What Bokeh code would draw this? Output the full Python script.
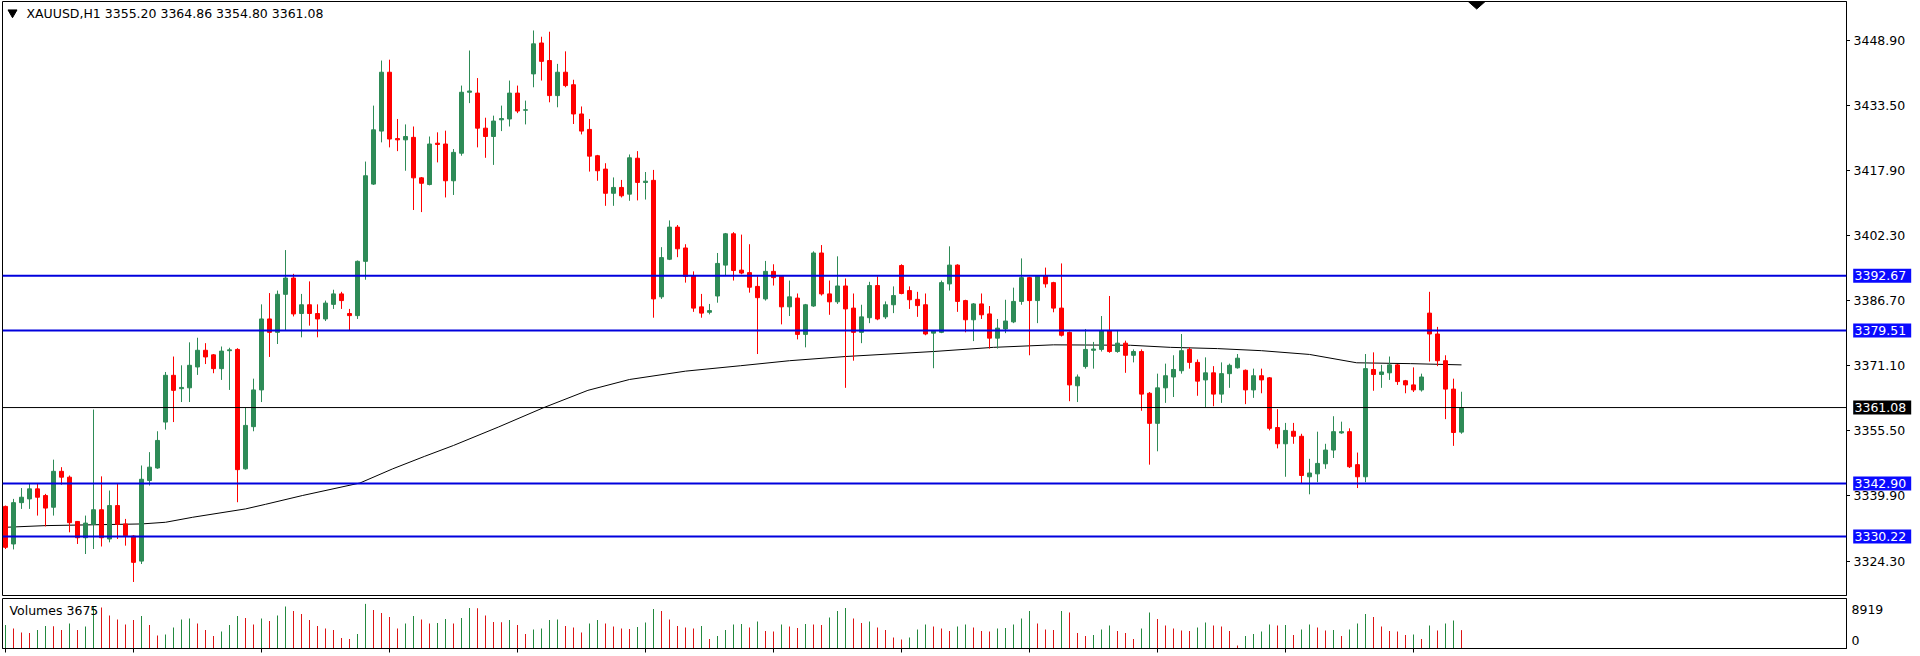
from bokeh.plotting import figure
from bokeh.models import Range1d, Span, Label, FixedTicker, ColumnDataSource
from bokeh.layouts import column, row
from bokeh.embed import file_html
from bokeh.resources import INLINE
from bokeh.core.properties import value

# ---------------- data ----------------
symbol_title = "XAUUSD,H1  3355.20 3364.86 3354.80 3361.08"
volume_title = "Volumes 3675"

opens = [3337.4, 3328.4, 3338.3, 3339.2, 3341.6, 3340.0, 3337.2, 3345.8, 3344.4, 3333.8,
         3329.9, 3333.1, 3336.6, 3329.6, 3337.6, 3333.2, 3330.3, 3324.3, 3343.6, 3346.6,
         3357.6, 3368.8, 3365.6, 3365.8, 3370.8, 3374.8, 3373.7, 3370.4, 3374.7, 3375.0,
         3346.4, 3356.5, 3365.3, 3382.3, 3379.1, 3388.2, 3392.1, 3383.6, 3385.7, 3383.6,
         3382.3, 3385.8, 3388.3, 3383.6, 3383.1, 3396.1, 3414.6, 3427.3, 3441.4, 3425.5,
         3425.2, 3425.8, 3416.1, 3414.5, 3424.4, 3424.2, 3415.4, 3422.0, 3436.6, 3436.4,
         3428.0, 3426.0, 3430.0, 3430.2, 3436.4, 3432.3, 3441.0, 3448.4, 3444.2, 3435.8,
         3441.4, 3438.4, 3431.4, 3427.7, 3421.4, 3418.2, 3412.4, 3413.8, 3412.2, 3420.8,
         3415.0, 3415.5, 3387.6, 3396.6, 3404.3, 3399.3, 3392.7, 3385.2, 3383.9, 3387.8,
         3395.2, 3402.7, 3394.0, 3393.4, 3390.1, 3387.1, 3393.7, 3392.5, 3385.2, 3387.3,
         3378.6, 3385.4, 3398.1, 3388.3, 3386.4, 3390.2, 3384.9, 3379.1, 3382.6, 3390.3,
         3382.8, 3385.7, 3395.1, 3389.1, 3387.0, 3385.7, 3378.9, 3379.1, 3390.7, 3395.2,
         3386.7, 3382.1, 3385.9, 3383.5, 3377.7, 3379.9, 3381.6, 3386.5, 3392.2, 3386.7,
         3392.7, 3391.0, 3384.9, 3379.1, 3366.3, 3370.9, 3374.8, 3375.0, 3379.4, 3374.5,
         3376.5, 3373.6, 3374.5, 3364.5, 3357.3, 3365.8, 3368.4, 3369.9, 3375.0, 3371.9,
         3367.7, 3369.4, 3364.3, 3369.2, 3370.6, 3370.0, 3365.3, 3368.7, 3368.2, 3356.3,
         3352.4, 3355.4, 3354.2, 3344.5, 3345.2, 3347.6, 3350.9, 3355.0, 3355.3, 3347.4,
         3344.5, 3370.2, 3369.0, 3369.4, 3371.3, 3367.5, 3366.5, 3365.3, 3383.7, 3378.7,
         3372.3, 3365.5, 3355.20]

highs = [3337.6, 3339.2, 3341.8, 3343.0, 3343.0, 3340.4, 3348.6, 3346.8, 3344.8, 3333.9,
         3335.2, 3360.6, 3344.6, 3341.2, 3343.0, 3334.4, 3330.5, 3347.2, 3350.4, 3355.4,
         3369.6, 3373.3, 3371.2, 3376.7, 3377.8, 3376.5, 3373.9, 3375.7, 3375.4, 3375.3,
         3361.0, 3368.0, 3385.8, 3388.5, 3389.1, 3398.8, 3393.1, 3388.3, 3391.3, 3385.8,
         3386.7, 3389.3, 3388.8, 3384.7, 3396.3, 3420.0, 3433.4, 3444.2, 3444.4, 3430.2,
         3428.9, 3428.4, 3416.3, 3426.0, 3427.0, 3427.4, 3423.0, 3438.2, 3446.6, 3440.0,
         3430.5, 3431.0, 3433.4, 3439.4, 3438.2, 3434.6, 3451.4, 3449.9, 3451.1, 3443.4,
         3446.4, 3439.6, 3433.2, 3430.2, 3421.6, 3419.6, 3416.2, 3415.6, 3421.7, 3422.5,
         3417.5, 3418.0, 3399.5, 3405.9, 3404.8, 3400.2, 3393.7, 3388.3, 3385.9, 3398.1,
         3402.9, 3403.1, 3402.5, 3400.2, 3392.5, 3396.2, 3395.4, 3392.7, 3391.5, 3388.4,
         3385.9, 3398.5, 3400.0, 3391.5, 3397.3, 3392.0, 3388.4, 3385.7, 3391.2, 3392.5,
         3386.5, 3390.1, 3395.4, 3390.1, 3388.8, 3388.4, 3379.6, 3391.5, 3399.7, 3395.4,
         3386.9, 3386.1, 3388.4, 3385.4, 3382.3, 3386.9, 3389.8, 3396.8, 3392.4, 3392.7,
         3394.6, 3391.2, 3395.6, 3379.3, 3369.0, 3379.9, 3376.8, 3383.0, 3387.8, 3379.4,
         3377.1, 3375.0, 3375.0, 3364.8, 3369.2, 3371.6, 3373.6, 3378.7, 3375.5, 3372.6,
         3373.1, 3371.0, 3371.9, 3371.6, 3373.9, 3370.2, 3370.4, 3370.4, 3368.4, 3360.7,
         3357.4, 3357.4, 3354.8, 3348.8, 3355.3, 3352.4, 3359.0, 3357.7, 3356.1, 3350.3,
         3373.9, 3374.3, 3371.3, 3373.3, 3371.5, 3367.7, 3370.7, 3369.2, 3388.8, 3380.4,
         3373.6, 3368.0, 3364.86]

lows = [3327.2, 3327.1, 3336.8, 3336.8, 3335.2, 3332.6, 3335.2, 3342.6, 3331.2, 3328.4,
        3326.0, 3327.2, 3327.8, 3328.8, 3329.6, 3328.0, 3319.3, 3323.6, 3342.4, 3346.4,
        3355.8, 3357.6, 3362.4, 3362.4, 3368.9, 3371.5, 3369.3, 3367.7, 3365.3, 3338.4,
        3346.2, 3355.4, 3362.4, 3373.2, 3376.3, 3379.5, 3382.9, 3377.9, 3380.7, 3377.9,
        3381.8, 3384.7, 3384.7, 3379.5, 3382.3, 3391.7, 3414.4, 3424.6, 3423.4, 3422.5,
        3417.8, 3408.4, 3407.9, 3414.3, 3419.8, 3411.4, 3412.0, 3421.4, 3434.0, 3423.4,
        3420.9, 3419.2, 3427.3, 3428.4, 3431.6, 3428.9, 3437.8, 3439.4, 3434.2, 3433.0,
        3437.8, 3429.0, 3426.5, 3417.6, 3415.4, 3409.4, 3409.4, 3411.4, 3410.6, 3410.7,
        3410.9, 3382.6, 3387.1, 3396.4, 3397.1, 3391.0, 3384.0, 3382.6, 3383.4, 3386.2,
        3392.7, 3391.5, 3393.0, 3388.6, 3373.9, 3386.7, 3390.3, 3381.0, 3383.0, 3377.4,
        3375.5, 3385.2, 3387.9, 3383.3, 3385.9, 3365.8, 3372.3, 3376.5, 3381.3, 3382.0,
        3382.3, 3383.7, 3388.2, 3384.7, 3382.8, 3378.4, 3370.5, 3378.9, 3389.1, 3384.0,
        3379.1, 3377.0, 3382.3, 3375.2, 3375.2, 3378.9, 3381.3, 3385.7, 3373.6, 3381.3,
        3389.8, 3383.9, 3378.1, 3362.6, 3362.4, 3370.4, 3370.4, 3374.5, 3374.2, 3374.2,
        3369.4, 3371.9, 3360.3, 3347.4, 3350.6, 3362.2, 3363.6, 3369.2, 3370.4, 3363.9,
        3361.2, 3361.4, 3362.2, 3365.8, 3370.4, 3361.9, 3363.4, 3364.5, 3355.6, 3351.3,
        3344.5, 3352.4, 3342.8, 3340.3, 3343.2, 3346.4, 3349.0, 3354.8, 3346.6, 3341.8,
        3343.2, 3365.1, 3365.8, 3367.7, 3366.5, 3364.5, 3364.8, 3364.9, 3372.1, 3371.0,
        3358.3, 3351.9, 3354.80]

closes = [3327.6, 3338.3, 3339.6, 3341.6, 3339.6, 3337.0, 3345.8, 3344.4, 3333.5, 3329.9,
          3333.4, 3336.6, 3329.9, 3337.6, 3333.1, 3330.4, 3324.0, 3343.9, 3346.8, 3353.2,
          3368.8, 3365.2, 3365.9, 3371.2, 3374.8, 3373.2, 3370.4, 3374.6, 3374.9, 3346.2,
          3356.8, 3365.3, 3382.3, 3379.1, 3388.2, 3392.1, 3383.5, 3385.7, 3383.6, 3382.3,
          3386.1, 3388.3, 3386.7, 3383.1, 3396.1, 3416.6, 3427.6, 3441.4, 3425.4, 3425.2,
          3426.0, 3416.1, 3414.8, 3424.2, 3424.1, 3415.4, 3422.2, 3436.6, 3436.9, 3428.0,
          3426.0, 3429.7, 3430.3, 3436.4, 3432.1, 3432.4, 3448.2, 3444.0, 3435.8, 3441.4,
          3438.2, 3431.4, 3427.3, 3421.3, 3417.8, 3412.4, 3413.8, 3411.8, 3420.9, 3415.0,
          3415.3, 3387.1, 3397.0, 3404.3, 3399.1, 3392.5, 3384.9, 3383.7, 3384.3, 3395.6,
          3402.7, 3393.9, 3393.3, 3389.9, 3387.4, 3393.7, 3392.2, 3385.2, 3387.6, 3378.6,
          3385.7, 3398.1, 3388.3, 3386.4, 3390.2, 3384.7, 3379.1, 3382.8, 3390.3, 3382.3,
          3385.7, 3387.9, 3388.4, 3386.9, 3385.5, 3378.7, 3379.4, 3391.0, 3395.2, 3386.5,
          3382.1, 3385.9, 3383.3, 3377.7, 3380.1, 3381.8, 3386.5, 3392.2, 3386.7, 3392.5,
          3390.7, 3384.9, 3378.4, 3366.5, 3368.4, 3375.0, 3375.1, 3379.4, 3374.5, 3376.5,
          3373.6, 3374.5, 3364.3, 3357.3, 3365.8, 3368.7, 3370.2, 3374.7, 3371.9, 3367.4,
          3369.4, 3364.3, 3369.2, 3371.2, 3372.9, 3365.3, 3368.7, 3367.7, 3356.1, 3352.4,
          3355.6, 3354.2, 3344.8, 3345.4, 3347.7, 3350.9, 3355.3, 3355.3, 3346.9, 3344.5,
          3370.4, 3369.0, 3369.6, 3371.3, 3367.3, 3366.5, 3365.3, 3368.4, 3378.7, 3372.3,
          3365.5, 3355.1, 3361.08]

volumes = [4700, 4000, 3200, 3100, 3700, 4500, 4450, 3700, 5000, 3700,
           4400, 8400, 8200, 6600, 5800, 4800, 5700, 6500, 4700, 2600,
           2800, 4200, 5800, 6000, 5000, 3700, 2500, 3400, 4700, 6500,
           6100, 4800, 6000, 5500, 6600, 8400, 7500, 6900, 5700, 4500,
           4000, 3700, 2100, 1900, 2900, 8919, 7700, 7100, 6300, 4000,
           5000, 6500, 5800, 5000, 5100, 5900, 5000, 6100, 8100, 8050,
           6600, 5300, 5250, 5700, 4700, 2900, 3800, 4000, 5700, 5800,
           4500, 4200, 3200, 5000, 5700, 5000, 4400, 4000, 3900, 4300,
           5200, 7900, 7500, 5800, 4500, 4200, 4000, 4500, 1900, 2500,
           3700, 4800, 4900, 4200, 5400, 3500, 3400, 4800, 4400, 4100,
           4900, 4800, 4700, 6200, 7500, 8100, 6000, 5100, 5400, 4200,
           3700, 2200, 1800, 2200, 3800, 4800, 4400, 4000, 3500, 4400,
           4800, 4200, 3500, 3400, 4000, 4100, 4800, 6000, 7500, 5000,
           3800, 3700, 7500, 7200, 3100, 2500, 2700, 3800, 4600, 3500,
           3100, 1900, 4000, 7200, 5900, 4600, 4000, 3600, 3500, 4200,
           5200, 4600, 4400, 3500, 600, 2500, 2900, 3400, 4800, 4600,
           4700, 2700, 3800, 4800, 4200, 3600, 3700, 2500, 3800, 5000,
           6900, 6300, 4400, 3500, 3400, 2700, 2800, 1900, 4600, 3600,
           5000, 5600, 3675]

volume_up = ("grrrggrrgr" "ggrrrrrgrr" "ggggrrrggg" "rrgrggrrrr" "rrrrggrrrr"
             "ggrrggrggr" "rrrgrrgggg" "rrrggrrrrg" "ggrrrrrgrg" "gggrgrrgrr"
             "grrgggrrgr" "rrrgggrrrg" "grrrgggggr" "rrgrrrgggr" "rrggrrrrrg"
             "grrrrggggr" "grggrrgrgg" "grrrrrgrgr" "ggr")

ma_k = [0, 5, 17, 20, 23.4, 30, 32.5, 37.1, 44.3, 48.4, 52.4, 56, 61.6, 67.2, 72.8, 78,
        85, 91.9, 98, 105, 116, 123.5, 131, 140.6, 145.6, 151.5, 157, 163, 168.9, 175.6, 182]
ma_v = [3332.4, 3332.8, 3333.2, 3333.6, 3334.8, 3336.8, 3337.9, 3340.0, 3343.0, 3346.4,
        3349.4, 3352.0, 3356.4, 3361.0, 3365.2, 3367.8, 3369.8, 3371.1, 3372.3, 3373.3,
        3374.5, 3375.5, 3376.1, 3376.0, 3375.5, 3375.2, 3374.7, 3373.8, 3371.8, 3371.6, 3371.3]

price_ticks = [3324.30, 3339.90, 3355.50, 3371.10, 3386.70, 3402.30, 3417.90, 3433.50, 3448.90]
blue_levels = [3392.67, 3379.51, 3342.90, 3330.22]
current_price = 3361.08
time_ticks = list(range(0, 183, 16))
shift_marker_k = 183.9
vol_axis_labels = ["8919", "0"]

# ---------------- styling / geometry ----------------
GREEN = "#2E8B57"
RED = "#FF0000"
VGREEN = "#23893F"
VRED = "#DD1515"
LINE_BLUE = "#0000DD"
BOX_BLUE = "#0A0AFF"
FONT = "DejaVu Sans"
FS = "12.5px"

PAGE_W, PAGE_H = 1920, 656
MAIN_H = 596
VOL_H = PAGE_H - MAIN_H
FRAME_L = 2          # left border of both panels
FRAME_R = 1846       # right border of both panels
TICK_W = 4
MAIN_W = FRAME_R + TICK_W
STRIP_W = PAGE_W - MAIN_W

N = len(opens)
xs = list(range(N))
colors = [GREEN if c >= o else RED for o, c in zip(opens, closes)]
src = ColumnDataSource(dict(
    x=xs, h=highs, l=lows,
    top=[max(o, c) for o, c in zip(opens, closes)],
    bottom=[min(o, c) for o, c in zip(opens, closes)],
    color=colors))

X0, X1 = -0.375, 230.125
Y0, Y1 = 3316.06, 3458.34
x_range = Range1d(X0, X1)
y_range = Range1d(Y0, Y1)
px_per_bar = (FRAME_R - FRAME_L) / (X1 - X0)
px_per_price = (MAIN_H - 2) / (Y1 - Y0)

# ---------------- main price panel ----------------
p = figure(width=MAIN_W, height=MAIN_H, x_range=x_range, y_range=y_range,
           output_backend="svg", toolbar_location=None,
           x_axis_location=None, y_axis_location="right",
           min_border_left=FRAME_L, min_border_right=TICK_W, min_border_top=1, min_border_bottom=1)
p.grid.visible = False
p.outline_line_color = "black"
p.outline_line_width = 1
p.background_fill_color = "white"
p.border_fill_color = "white"

ya = p.yaxis[0]
ya.ticker = FixedTicker(ticks=price_ticks)
ya.major_tick_out = TICK_W
ya.major_tick_in = 0
ya.minor_tick_out = 0
ya.minor_tick_in = 0
ya.major_label_standoff = 0
ya.major_label_text_font_size = "0px"
ya.major_label_text_color = None
ya.axis_line_color = "black"

for lvl in blue_levels:
    p.add_layout(Span(location=lvl, dimension="width", line_color=LINE_BLUE, line_width=2))
p.add_layout(Span(location=current_price, dimension="width", line_color="black", line_width=1))

p.line(ma_k, ma_v, line_color="black", line_width=1)

p.segment(x0="x", y0="h", x1="x", y1="l", line_color="color", line_width=1, source=src)
p.vbar(x="x", width=0.5, top="top", bottom="bottom", fill_color="color",
       line_color="color", line_width=1, source=src)

# title inside the frame
p.scatter([0.875], [3455.7], marker="inverted_triangle", size=9, color="black")
p.add_layout(Label(x=2.625, y=3455.46, text=symbol_title, text_font=FONT, text_font_size=FS,
                   text_color="black", text_baseline="middle", text_align="left"))
# chart shift marker (flat triangle hanging from the top border)
half_w = 8.5 / px_per_bar
depth = 7.5 / px_per_price
p.patch([shift_marker_k - half_w, shift_marker_k + half_w, shift_marker_k],
        [Y1, Y1, Y1 - depth], color="black")

# ---------------- price label strip (shares the price scale) ----------------
s = figure(width=STRIP_W, height=MAIN_H, x_range=Range1d(0, STRIP_W), y_range=y_range,
           output_backend="svg", toolbar_location=None,
           x_axis_location=None, y_axis_location=None,
           min_border_left=0, min_border_right=0, min_border_top=1, min_border_bottom=1)
s.grid.visible = False
s.outline_line_color = None
s.background_fill_color = "white"
s.border_fill_color = "white"

s.text(x=[3] * len(price_ticks), y=price_ticks, text=[f"{t:.2f}" for t in price_ticks],
       text_font=value(FONT), text_font_size=value(FS), text_color="black",
       text_baseline="middle", text_align="left")

box_levels = blue_levels + [current_price]
box_colors = [BOX_BLUE] * len(blue_levels) + ["black"]
s.rect(x=[31.7] * len(box_levels), y=box_levels, width=58, height=14, height_units="screen",
       fill_color=box_colors, line_color=None)
s.text(x=[4] * len(box_levels), y=box_levels, text=[f"{v:.2f}" for v in box_levels],
       text_font=value(FONT), text_font_size=value(FS), text_color="white",
       text_baseline="middle", text_align="left")

# ---------------- volume panel ----------------
v = figure(width=PAGE_W, height=VOL_H, x_range=x_range, y_range=Range1d(0, 10000),
           output_backend="svg", toolbar_location=None, y_axis_location="right",
           min_border_left=FRAME_L, min_border_right=PAGE_W - FRAME_R,
           min_border_top=2, min_border_bottom=8)
v.grid.visible = False
v.outline_line_color = "black"
v.outline_line_width = 1
v.background_fill_color = "white"
v.border_fill_color = "white"

vcol = [VGREEN if ch == "g" else VRED for ch in volume_up]
v.segment(x0=xs, y0=[0] * N, x1=xs, y1=volumes, line_color=vcol, line_width=1)

vy = v.yaxis[0]
vy.ticker = FixedTicker(ticks=[7900, 1700])
vy.major_label_overrides = {7900: vol_axis_labels[0], 1700: vol_axis_labels[1]}
vy.major_tick_out = 0
vy.major_tick_in = 0
vy.minor_tick_out = 0
vy.minor_tick_in = 0
vy.major_label_standoff = 5
vy.major_label_text_font = FONT
vy.major_label_text_font_size = FS
vy.major_label_text_color = "black"
vy.axis_line_color = "black"

vx = v.xaxis[0]
vx.ticker = FixedTicker(ticks=time_ticks)
vx.major_tick_out = 4
vx.major_tick_in = 0
vx.minor_tick_out = 0
vx.minor_tick_in = 0
vx.major_label_text_font_size = "0px"
vx.major_label_text_color = None
vx.major_label_standoff = 0
vx.axis_line_color = "black"

v.add_layout(Label(x=0.5, y=7600, text=volume_title, text_font=FONT, text_font_size=FS,
                   text_color="black", text_baseline="middle", text_align="left"))

layout = column(row(p, s, spacing=0), v, spacing=0)
open("out.html", "w").write(file_html(layout, INLINE))
